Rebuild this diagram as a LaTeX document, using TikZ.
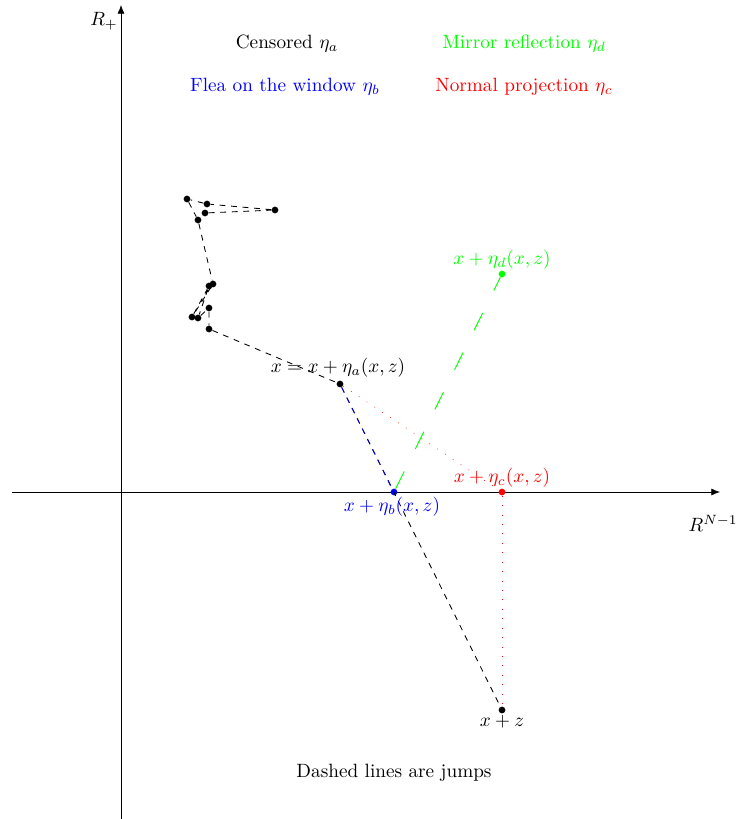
\documentclass[tikz,border=0pt]{standalone}
\usetikzlibrary{arrows.meta}
\begin{document}
\begin{tikzpicture}[x=0.52pt,y=-0.52pt,
  dot/.style={circle,fill,inner sep=0pt,minimum size=3.5pt},
  jump/.style={dashed,line width=0.45pt},
  axis/.style={-{Latex[length=4.5pt,width=3.6pt]},line width=0.35pt},
  proj/.style={red,line width=0.3pt,dash pattern=on 0.4pt off 4.5pt},
  mirror/.style={green,line width=0.5pt,dash pattern=on 10pt off 13pt}]
\useasboundingbox (0,0) rectangle (736,819);
% axes
\coordinate (xl) at (12,492);
\coordinate (xr) at (720,492);
\coordinate (yb) at (121,819);
\coordinate (yt) at (121,5);
\draw[axis] (xl) -- (xr);
\draw[axis] (yb) -- (yt);
\node (rp) at (104,21) {$R_+$};
\node (rn) at (713,523) {$R^{N-1}$};
% legend
\node (la) at (287,44) {Censored $\eta_a$};
\node[green] (ld) at (524,44) {Mirror reflection $\eta_d$};
\node[blue] (lb) at (285,87) {Flea on the window $\eta_b$};
\node[red] (lc) at (524,87) {Normal projection $\eta_c$};
\node (note) at (394,773) {Dashed lines are jumps};
% random walk points
\node[dot] (p4) at (205,213) {};
\node[dot] (p3) at (275,210) {};
\node[dot] (p2) at (207,204) {};
\node[dot] (p1) at (187,199) {};
\node[dot] (p5) at (198,220) {};
\node[dot] (p6a) at (213,284) {};
\node[dot] (p8a) at (192,317) {};
\node[dot] (p6b) at (209,286) {};
\node[dot] (p8b) at (198,318) {};
\node[dot] (p7) at (209,308) {};
\node[dot] (p9) at (209,329) {};
\node[dot] (x) at (340,384) {};
\draw[jump] (p4) -- (p3) -- (p2) -- (p1) -- (p5) -- (p6a) -- (p8a) -- (p6b) -- (p8b) -- (p7) -- (p9) -- (x);
% targets
\node[dot,blue] (b) at (394,492) {};
\node[dot,red] (c) at (502,492) {};
\node[dot,green] (d) at (502,274) {};
\node[dot] (xz) at (502,710) {};
\draw[jump] (x) -- (xz);
\draw[jump,blue] (x) -- (b);
\draw[proj] (x) -- (c);
\draw[proj] (c) -- (xz);
\draw[mirror] (b) -- (d);
% labels
\node[red] (lcc) at (502,478) {$x+\eta_c(x,z)$};
\node[green] (ldd) at (502,260) {$x+\eta_d(x,z)$};
\node (lx) at (338,368) {$x=x+\eta_a(x,z)$};
\node[blue] (lbb) at (392,507) {$x+\eta_b(x,z)$};
\node (lxz) at (502,722) {$x+z$};
\end{tikzpicture}
\end{document}
